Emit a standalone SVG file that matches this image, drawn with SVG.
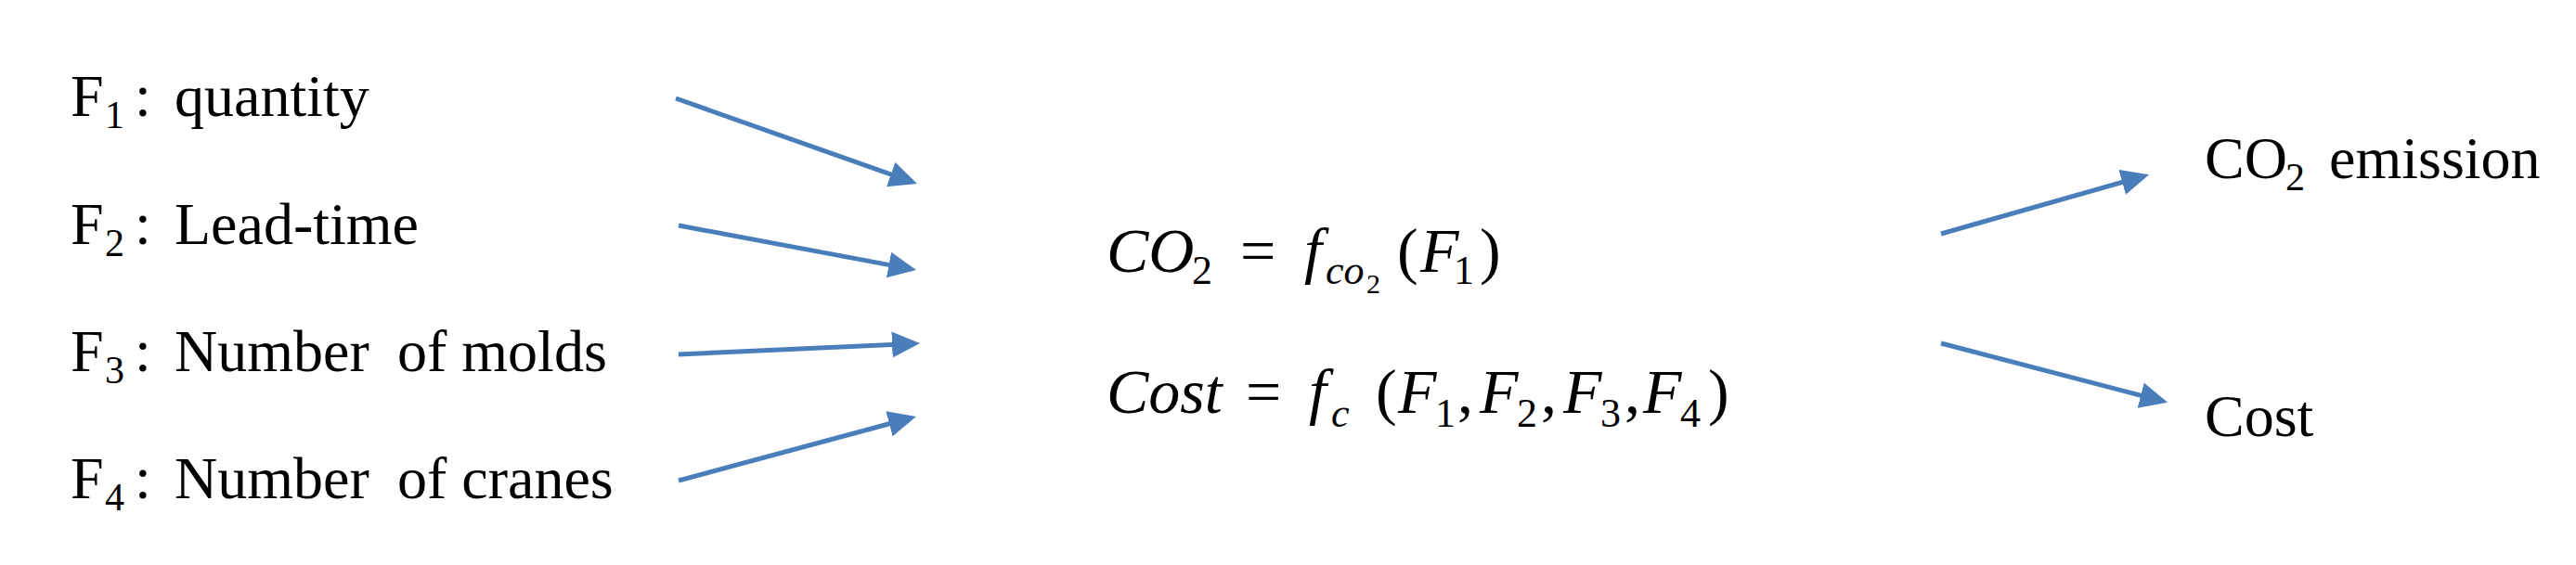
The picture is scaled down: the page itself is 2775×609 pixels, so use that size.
<svg xmlns="http://www.w3.org/2000/svg" width="2775" height="609" viewBox="0 0 2775 609">
<style>
.t{font-family:"Liberation Serif","Times New Roman",serif;font-size:64px;fill:#000}
.s{font-size:42px}
.m{font-family:"Liberation Serif","Times New Roman",serif;font-size:68px;fill:#000}
.i{font-style:italic}
.ms{font-size:44px}
.mss{font-size:30px}
.c{stroke:#4a7ebb;stroke-width:5;fill:none;marker-end:url(#ah)}
</style>
<defs>
<marker id="ah" markerUnits="userSpaceOnUse" markerWidth="32" markerHeight="30" refX="5" refY="14" orient="auto">
<path d="M0,0 L30,14 L0,28 Z" fill="#4a7ebb"/>
</marker>
</defs>
<rect width="2775" height="609" fill="#fff"/>
<g id="f1" class="t"><text x="76" y="125">F</text><text class="t s" x="113" y="138">1</text><text x="145" y="125">:</text><text x="188" y="125">quantity</text></g>
<g id="f2" class="t"><text x="76" y="263">F</text><text class="t s" x="113" y="276">2</text><text x="145" y="263">:</text><text x="188" y="263">Lead-time</text></g>
<g id="f3" class="t"><text x="76" y="400">F</text><text class="t s" x="113" y="413">3</text><text x="145" y="400">:</text><text x="188" y="400">Number</text><text x="428" y="400">of molds</text></g>
<g id="f4" class="t"><text x="76" y="537">F</text><text class="t s" x="113" y="550">4</text><text x="145" y="537">:</text><text x="188" y="537">Number</text><text x="428" y="537">of cranes</text></g>
<g id="model" class="m">
<text class="m i" x="1192" y="293">CO</text><text class="m ms" x="1284" y="306">2</text>
<text x="1336" y="293">=</text>
<text class="m i" x="1405" y="293">f</text><text class="m i ms" x="1428" y="306">co</text><text class="m mss" x="1472" y="316">2</text>
<text x="1505" y="293">(</text><text class="m i" x="1530" y="293">F</text><text class="m ms" x="1566" y="306">1</text><text x="1594" y="293">)</text>
<text class="m i" x="1192" y="445">Cost</text>
<text x="1342" y="445">=</text>
<text class="m i" x="1410" y="445">f</text><text class="m i ms" x="1434" y="460">c</text>
<text x="1482" y="445">(</text>
<text class="m i" x="1506" y="445">F</text><text class="m ms" x="1546" y="460">1</text><text x="1570" y="445">,</text>
<text class="m i" x="1594" y="445">F</text><text class="m ms" x="1634" y="460">2</text><text x="1660" y="445">,</text>
<text class="m i" x="1684" y="445">F</text><text class="m ms" x="1724" y="460">3</text><text x="1750" y="445">,</text>
<text class="m i" x="1770" y="445">F</text><text class="m ms" x="1810" y="460">4</text><text x="1840" y="445">)</text>
</g>
<g id="co2" class="t"><text x="2375" y="192">CO</text><text class="t s" x="2462" y="205">2</text><text x="2509" y="192">emission</text></g>
<g id="cost" class="t"><text x="2375" y="470">Cost</text></g>
<g id="connectors">
<line class="c" x1="728" y1="106" x2="964.4" y2="189.7"/>
<line class="c" x1="731" y1="243" x2="962.4" y2="286.4"/>
<line class="c" x1="731" y1="382" x2="966" y2="371.2"/>
<line class="c" x1="731" y1="518" x2="962.8" y2="455.5"/>
<line class="c" x1="2091" y1="252" x2="2291" y2="195"/>
<line class="c" x1="2091" y1="370" x2="2311" y2="427.5"/>
</g>
</svg>
